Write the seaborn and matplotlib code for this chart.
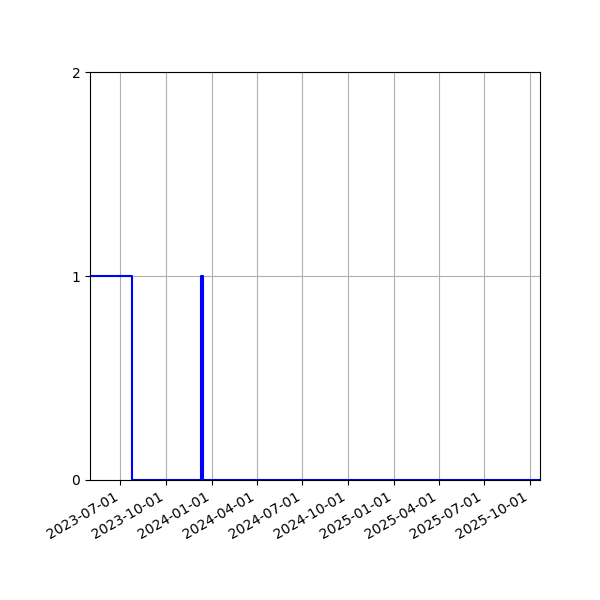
import matplotlib
matplotlib.use("Agg")
import matplotlib.pyplot as plt
import matplotlib.dates as mdates
import pandas as pd
import seaborn as sns

dates = ["2023-05-01", "2023-07-24", "2023-12-10", "2023-12-14", "2025-10-22"]
values = [1, 0, 1, 0, 0]
yticks = [0, 1, 2]

df = pd.DataFrame({"date": pd.to_datetime(dates), "value": values})

fig, ax = plt.subplots(figsize=(6, 6), dpi=100)
sns.lineplot(data=df, x="date", y="value", drawstyle="steps-post",
             color="blue", linewidth=1.5, ax=ax)
ax.set_xlim(df["date"].min(), df["date"].max())
ax.set_ylim(0, 2)
ax.set_yticks(yticks)
ax.xaxis.set_major_locator(mdates.MonthLocator(bymonth=[1, 4, 7, 10]))
ax.xaxis.set_major_formatter(mdates.DateFormatter("%Y-%m-%d"))
ax.set_xlabel("")
ax.set_ylabel("")
ax.grid(True)
fig.autofmt_xdate()
fig.subplots_adjust(left=0.15, right=0.9, top=0.88, bottom=0.2)
fig.savefig("out.png", dpi=100)
